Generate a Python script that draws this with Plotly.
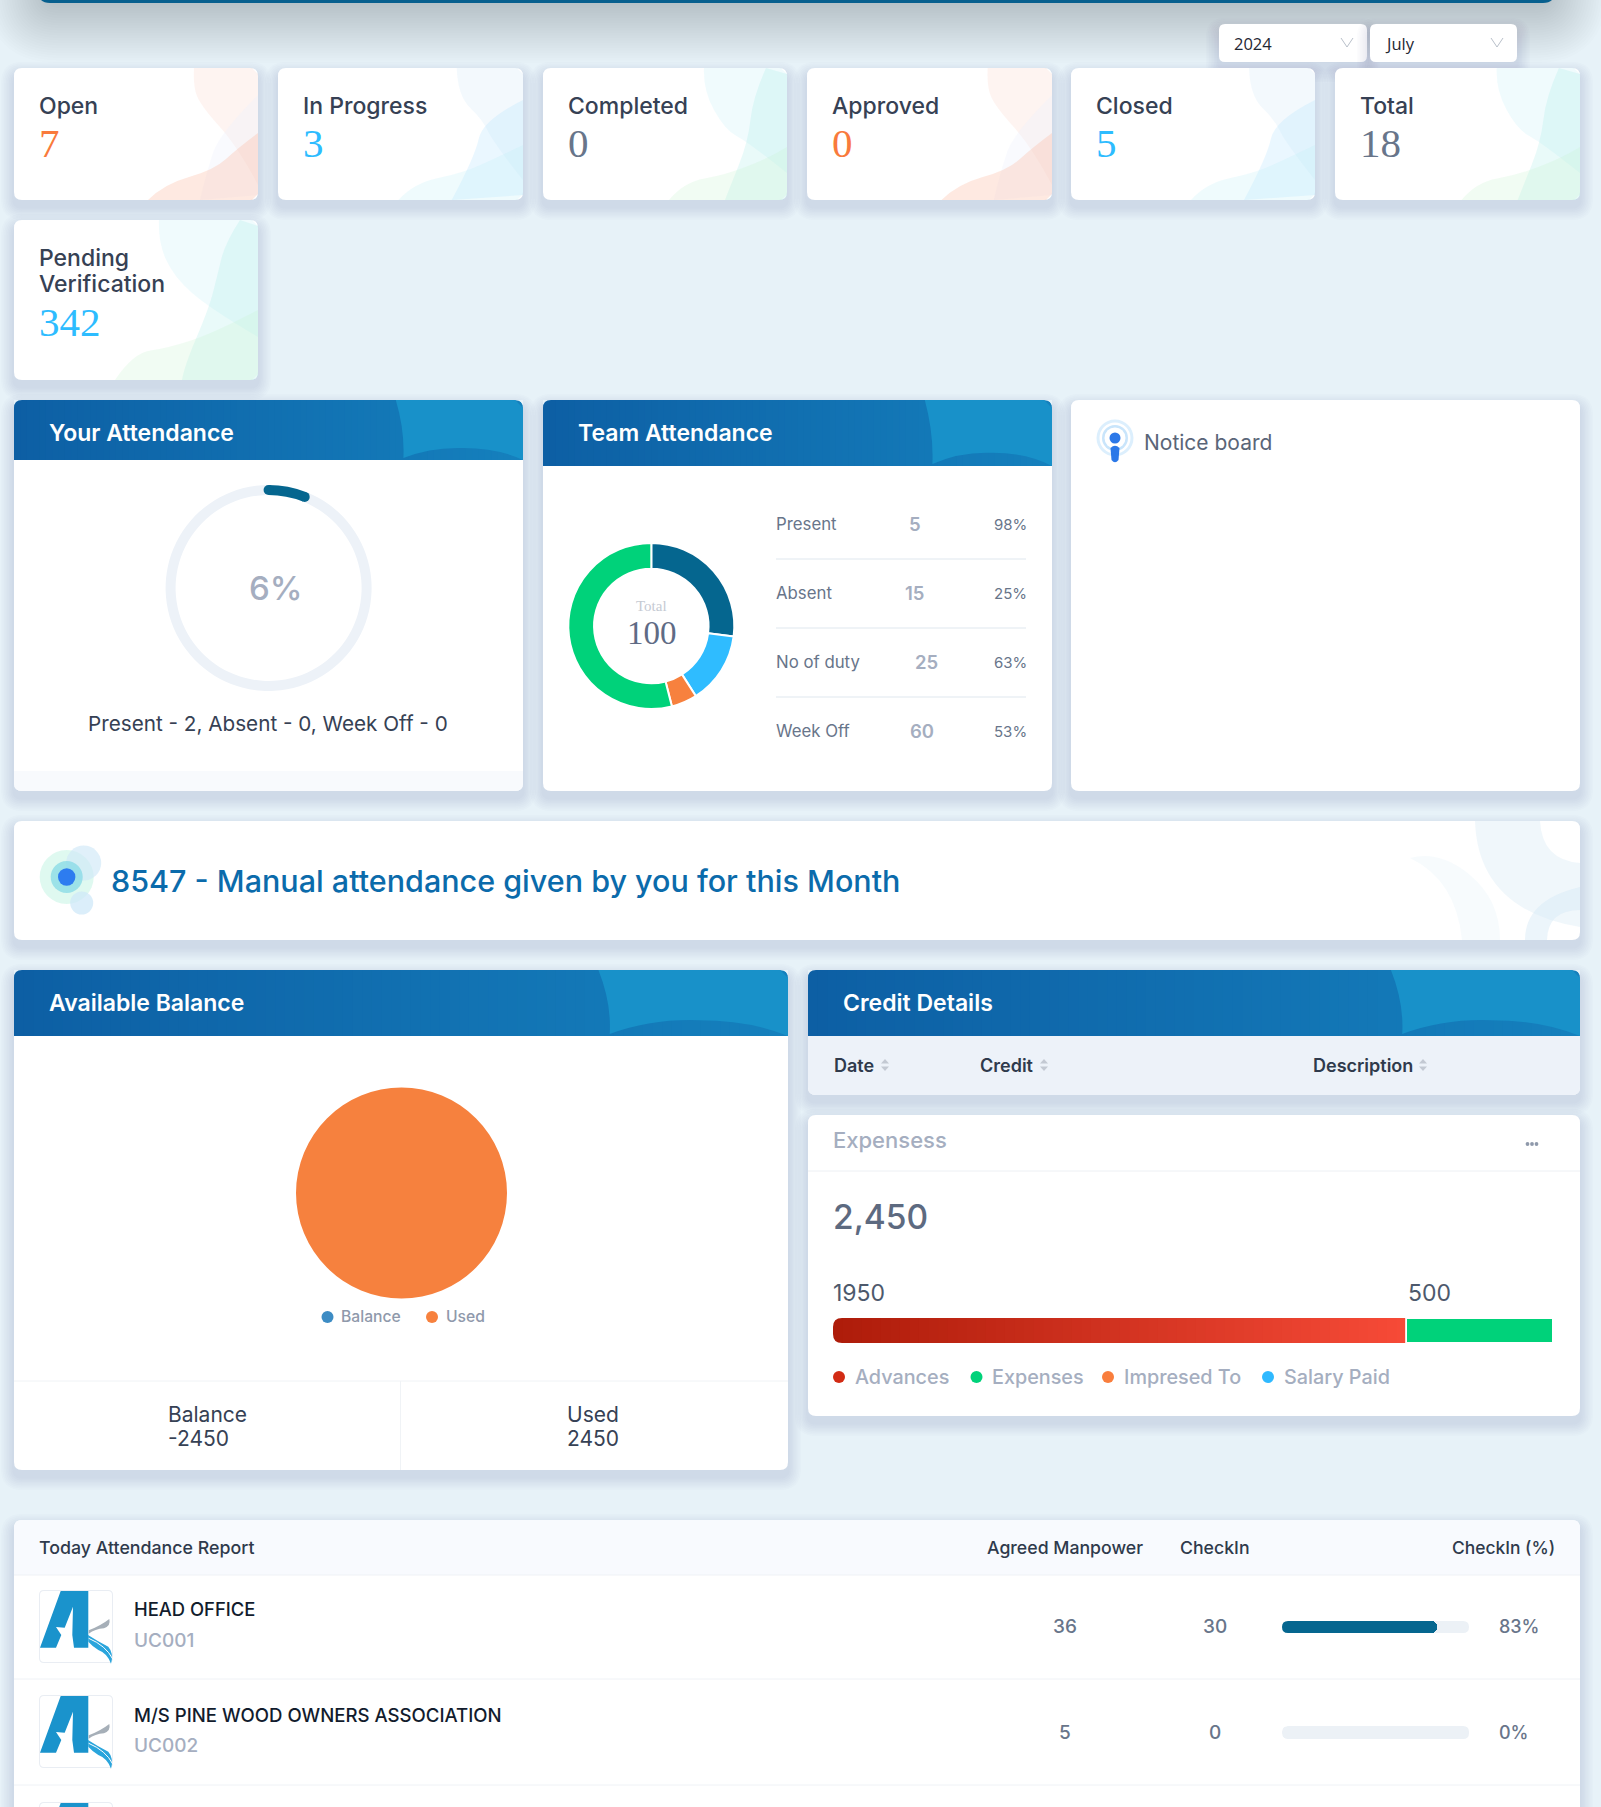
import math
import plotly.graph_objects as go

W, H = 1601, 1807
SANS = "Inter"
SERIF = "Liberation Serif"
PAGE = "#e7f2f8"

# data
card_titles = ["Open", "In Progress", "Completed", "Approved", "Closed", "Total", "Pending<br>Verification"]
card_values = [7, 3, 0, 0, 5, 18, 342]
card_colors = ["#f97a3c", "#2dbcff", "#68758a", "#f97a3c", "#2dbcff", "#68758a", "#2dbcff"]
card_themes = ["orange", "blue", "teal", "orange", "blue", "teal", "tall"]

attendance_pct = [6, 94]
attendance_text = "Present - 2, Absent - 0, Week Off - 0"

team_slices = ["Present", "Absent", "No of duty", "Week Off"]
team_shares = [27, 14, 5, 54]
team_colors = ["#05668f", "#2fbcff", "#f7813e", "#00d27a"]
team_counts = [5, 15, 25, 60]
team_pcts = ["98%", "25%", "63%", "53%"]

balance_labels = ["Balance", "Used"]
balance_values = [0, 2450]
balance_shown = [-2450, 2450]

expense_labels = ["Advances", "Expenses", "Impresed To", "Salary Paid"]
expense_values = [1950, 500]
expense_total = "2,450"

sites = ["HEAD OFFICE", "M/S PINE WOOD OWNERS ASSOCIATION"]
site_codes = ["UC001", "UC002"]
manpower = [36, 5]
checkin = [30, 0]
checkin_pct = [83, 0]

shapes = []
notes = []


def smooth(pts):
    # smooth open curve through midpoints, starts at first point, ends at last
    d = "M%.1f,%.1f" % pts[0]
    for i in range(1, len(pts) - 1):
        mx = (pts[i][0] + pts[i + 1][0]) / 2
        my = (pts[i][1] + pts[i + 1][1]) / 2
        if i == len(pts) - 2:
            mx, my = pts[i + 1]
        d += " Q%.1f,%.1f %.1f,%.1f" % (pts[i][0], pts[i][1], mx, my)
    return d


def rrect(x0, y0, x1, y1, r=8, top=True, bottom=True):
    rt = r if top else 0
    rb = r if bottom else 0
    return ("M%g,%g L%g,%g Q%g,%g %g,%g L%g,%g Q%g,%g %g,%g L%g,%g Q%g,%g %g,%g L%g,%g Q%g,%g %g,%g Z" % (
        x0 + rt, y0, x1 - rt, y0, x1, y0, x1, y0 + rt, x1, y1 - rb, x1, y1, x1 - rb, y1,
        x0 + rb, y1, x0, y1, x0, y1 - rb, x0, y0 + rt, x0, y0, x0 + rt, y0))


def path(d, fill, opacity=1, layer="below"):
    shapes.append(dict(type="path", path=d, xref="x", yref="y", fillcolor=fill, opacity=opacity,
                       line=dict(width=0), layer=layer))


def rect(x0, y0, x1, y1, fill, opacity=1, layer="below", xref="x", yref="y"):
    shapes.append(dict(type="rect", x0=x0, y0=y0, x1=x1, y1=y1, xref=xref, yref=yref, fillcolor=fill,
                       opacity=opacity, line=dict(width=0), layer=layer))


def circle(cx, cy, r, fill, opacity=1, layer="below"):
    shapes.append(dict(type="circle", x0=cx - r, y0=cy - r, x1=cx + r, y1=cy + r, xref="x", yref="y",
                       fillcolor=fill, opacity=opacity, line=dict(width=0), layer=layer))


def hline(x0, x1, y, color, width=1):
    shapes.append(dict(type="line", x0=x0, x1=x1, y0=y, y1=y, xref="x", yref="y",
                       line=dict(color=color, width=width), layer="below"))


def vline(x, y0, y1, color, width=1):
    shapes.append(dict(type="line", x0=x, x1=x, y0=y0, y1=y1, xref="x", yref="y",
                       line=dict(color=color, width=width), layer="below"))


def text(x, y, s, size, color, anchor="left", font=SANS, weight=400):
    # annotations carry a little padding of their own
    if anchor == "left":
        x -= 1.5
    elif anchor == "right":
        x += 2
    notes.append(dict(x=x, y=y, xref="x", yref="y", text=str(s), showarrow=False, xanchor=anchor, yanchor="middle",
                      borderpad=0, font=dict(family=font, size=size, color=color, weight=weight)))


def mask(x, y, r, sx, sy, color="#ffffff", layer="above"):
    # paints away a square corner; sx, sy point into the shape
    path("M%g,%g L%g,%g Q%g,%g %g,%g Z" % (x, y, x + sx * r, y, x, y, x, y + sy * r), color, layer=layer)


def shadow(x0, y0, x1, y1, r=8):
    for i in range(8):
        e = 13 - i * 1.6
        path(rrect(x0 - e, y0 - e + 7, x1 + e, y1 + e + 7, r + e), "#4f7690", 0.018)


def card(x0, y0, x1, y1, fill="#ffffff"):
    shadow(x0, y0, x1, y1)
    path(rrect(x0, y0, x1, y1), fill)


def mix(a, b, t):
    ca = [int(a[i:i + 2], 16) for i in (1, 3, 5)]
    cb = [int(b[i:i + 2], 16) for i in (1, 3, 5)]
    return "rgb(%d,%d,%d)" % tuple(round(p + (q - p) * t) for p, q in zip(ca, cb))


def header(x0, y0, x1, y1, title):
    n = 80
    w = (x1 - x0) / n
    for i in range(n):
        rect(x0 + i * w, y0, min(x0 + (i + 1) * w + 1.5, x1), y1, mix("#0d5fa4", "#1580bd", i / (n - 1)))
    mask(x0, y0, 8, 1, 1, PAGE, "below")
    mask(x1, y0, 8, -1, 1, PAGE, "below")
    # lighter wave in the right corner
    span = x1 - x0
    s = 0.245 * span if span > 600 else 0.25 * span
    h = y1 - y0
    rise = 0.24 * h if span > 600 else 0.2 * h
    d = smooth([(x1 - s, y0), (x1 - s * 0.93, y0 + h * 0.5), (x1 - s * 0.94, y1 - 2)])
    d += " Q%.1f,%.1f %.1f,%.1f Q%.1f,%.1f %.1f,%.1f L%g,%g L%g,%g L%g,%g Z" % (
        x1 - s * 0.72, y1 - rise * 1.1, x1 - s * 0.47, y1 - rise,
        x1 - s * 0.2, y1 - rise, x1, y1, x1, y1, x1, y0 + 8, x1 - 8, y0)
    path(d, "#1891c9")
    mask(x1, y0, 8, -1, 1, PAGE, "below")
    text(x0 + 35.5, y0 + 33, title, 23, "#ffffff", weight=600)


# blob outlines relative to a card of the given base height
BLOBS = {
    "orange": (132, [
        ([(180, 0), (179, 18), (187, 38), (224, 79), (244, 117)], "#f9c7b8", 0.2),
        ([(244, 27), (206, 65), (193, 102), (186, 132)], "#eef0fb", 0.35),
        ([(134, 132), (150, 116), (200, 102), (224, 80), (244, 65)], "#fdb59c", 0.3),
    ]),
    "blue": (132, [
        ([(178, 0), (179, 28), (204, 52), (214, 74), (244, 112)], "#c8e4f4", 0.22),
        ([(244, 32), (204, 52), (196, 89), (173, 132)], "#b9e3ff", 0.3),
        ([(120, 132), (135, 115), (184, 105), (219, 89), (244, 77)], "#bdf0f8", 0.24),
    ]),
    "teal": (132, [
        ([(161, 0), (160, 22), (182, 62), (205, 74), (244, 105)], "#bff0f6", 0.24),
        ([(223, 0), (210, 29), (205, 74), (187, 119), (182, 132)], "#a5e9e5", 0.24),
        ([(126, 132), (141, 114), (182, 107), (228, 89), (244, 79)], "#c6f2ce", 0.24),
    ]),
    "tall": (160, [
        ([(145, 0), (144, 22), (160, 57), (195, 88), (244, 117)], "#bff0f6", 0.24),
        ([(226, 0), (211, 23), (203, 57), (195, 88), (170, 147), (168, 160)], "#a5e9e5", 0.24),
        ([(101, 160), (119, 133), (154, 128), (200, 113), (244, 90)], "#c6f2ce", 0.24),
    ]),
}


def blobs(x0, y0, x1, y1, theme):
    base, items = BLOBS[theme]
    sx = (x1 - x0) / 244
    sy = (y1 - y0) / base
    for pts, color, alpha in items:
        abs_pts = [(x0 + p * sx, y0 + q * sy) for p, q in pts]
        d = smooth(abs_pts)
        if pts[0][1] == 0:
            if pts[-1][1] == base:
                d += " L%g,%g L%g,%g L%g,%g Z" % (x1 - 4, y1, x1, y1 - 4, x1, y0 + 6)
            else:
                d += " L%g,%g L%g,%g Z" % (x1, y0 + 6, x1 - 6, y0)
        elif pts[0][0] == 244:
            d += " L%g,%g Z" % (x1, y1 - 5)
        else:
            d += " L%g,%g L%g,%g Z" % (x1, y1 - 6, x1 - 6, y1)
        path(d, color, alpha)


def logo(dy):
    path(rrect(39, 1590 + dy, 113, 1663 + dy, 5), "#e9edf3")
    path(rrect(40, 1591 + dy, 112, 1662 + dy, 4), "#ffffff")
    px = lambda x: 30 + x / 3
    py = lambda y: 1585 + dy + y / 3
    a = [(92, 18), (175, 18), (175, 188), (132, 188), (127, 150), (129, 65), (104, 128), (78, 126), (94, 150),
         (78, 188), (30, 188)]
    path("M" + " L".join("%.1f,%.1f" % (px(x), py(y)) for x, y in a) + " Z", "#1a93cc")
    # swooshes beside the letter
    path("M%.1f,%.1f Q%.1f,%.1f %.1f,%.1f Q%.1f,%.1f %.1f,%.1f Q%.1f,%.1f %.1f,%.1f Z" % (
        px(176), py(136), px(212), py(122), px(238), py(102), px(243), py(122), px(222), py(130),
        px(195), py(132), px(176), py(146)), "#a6afb8")
    path("M%.1f,%.1f Q%.1f,%.1f %.1f,%.1f Q%.1f,%.1f %.1f,%.1f Q%.1f,%.1f %.1f,%.1f Q%.1f,%.1f %.1f,%.1f Z" % (
        px(174), py(150), px(205), py(170), px(235), py(185), px(252), py(205), px(243), py(236),
        px(232), py(205), px(205), py(195), px(188), py(185), px(175), py(170)), "#2aa5dc")
    shapes.append(dict(type="path", path="M%.1f,%.1f Q%.1f,%.1f %.1f,%.1f" % (px(176), py(160), px(228), py(182), px(248), py(222)),
                       xref="x", yref="y", line=dict(color="#ffffff", width=1), layer="below"))


# top banner with its shadow
for i in range(24):
    e = 60 - i * 2.5
    path(rrect(46 - e, -40 - e, 1547 + e, 3 + e, 14 + e), "#4a5a6a", 0.0115)
path(rrect(38, -30, 1555, 3, 12), "#075f8e")

# dropdowns
for x0, x1, label, arrow in [(1219, 1367, "2024", 1347), (1370, 1517, "July", 1497)]:
    shadow(x0, 24, x1, 62, 6)
    path(rrect(x0, 24, x1, 62, 6), "#ffffff")
    text(x0 + 15, 43, label, 16.5, "#1f2733", font="Open Sans")
    shapes.append(dict(type="path", path="M%g,38 L%g,47 L%g,38" % (arrow - 6, arrow, arrow + 6), xref="x", yref="y",
                       line=dict(color="#b9c0ca", width=1), layer="below"))

# stat cards
card_x = [(14, 258), (278, 523), (543, 787), (807, 1052), (1071, 1315), (1335, 1580), (14, 258)]
for i, (x0, x1) in enumerate(card_x):
    y0, y1 = (68, 200) if i < 6 else (220, 380)
    card(x0, y0, x1, y1)
    blobs(x0, y0, x1, y1, card_themes[i])
    if i < 6:
        text(x0 + 25, 106, card_titles[i], 23, "#364154", weight=500)
        text(x0 + 25, 143, card_values[i], 41, card_colors[i], font=SERIF)
    else:
        top, bottom = card_titles[i].split("<br>")
        text(x0 + 25, 258, top, 23, "#364154", weight=500)
        text(x0 + 25, 284, bottom, 23, "#364154", weight=500)
        text(x0 + 25, 322, card_values[i], 41, card_colors[i], font=SERIF)

# your attendance
card(14, 400, 523, 791)
path(rrect(14, 771, 523, 791, 8, top=False), "#f8fafd")
header(14, 400, 523, 460, "Your Attendance")
text(276, 588, "%d%%" % attendance_pct[0], 33, "#a5aec0", anchor="center", weight=500)
text(268, 723, attendance_text, 20.7, "#364154", anchor="center")

# team attendance
card(543, 400, 1052, 791)
header(543, 400, 1052, 466, "Team Attendance")
text(651, 606, "Total", 15, "#c5cad3", anchor="center", font=SERIF)
text(652, 633, 100, 33, "#5f6b85", anchor="center", font=SERIF)
row_y = [524, 593, 662, 731]
count_x = [915, 914, 926.5, 921.5]
for i, y in enumerate(row_y):
    text(776, y, team_slices[i], 16.8, "#68758a")
    text(count_x[i], y, team_counts[i], 18.5, "#a5aec0", anchor="center", weight=600)
    text(1026, y, team_pcts[i], 15, "#68758a", anchor="right")
    if i < 3:
        hline(776, 1026, (row_y[i] + row_y[i + 1]) / 2 + 0.5, "#dfe7ee")

# notice board
card(1071, 400, 1580, 791)
circle(1115, 438, 18.5, "#dceffd")
circle(1115, 438, 15.5, "#ffffff")
circle(1115, 438, 13, "#c9e5fb")
circle(1115, 438, 10.5, "#ffffff")
circle(1115, 438, 5.5, "#2b78e8")
path("M1110.5,448 Q1115,443.5 1119.5,448 L1118.5,460 Q1115,464.5 1111.5,460 Z", "#2b78e8")
text(1144, 442, "Notice board", 21, "#5a6578")

# manual attendance banner
card(14, 821, 1580, 940)
path("M1462,940 Q1456,880 1410,858 Q1440,850 1470,875 Q1500,900 1500,940 Z", "#f1f7fb", 0.55)
path("M1475,821 Q1478,910 1580,927 L1580,863 Q1542,860 1540,821 Z", "#dcecf6", 0.42)
path("M1525,940 Q1525,900 1580,887 L1580,910 Q1548,910 1547,940 Z", "#d5e9f6", 0.45)
circle(66.7, 877, 27, "#dcf8ee", 0.9)
circle(83.7, 863, 17.5, "#cfe8f8", 0.65)
circle(81.7, 903, 11.5, "#cfe8f8", 0.75)
circle(66.7, 877, 16, "#86d9e6", 0.75)
circle(66.7, 877, 8.7, "#2d7cf0")
text(111, 880, "8547 - Manual attendance given by you for this Month", 30.5, "#0b6bab", weight=500)

# available balance
card(14, 970, 788, 1470)
header(14, 970, 788, 1036, "Available Balance")
for x, y, s, c in [(327.5, 1317, balance_labels[0], "#3d8cc4"), (432, 1317, balance_labels[1], "#f7813e")]:
    circle(x, y, 6, c)
    text(x + 14, y - 1, s, 15.7, "#8f99ab", weight=500)
hline(14, 788, 1381, "#f0f3f6")
vline(400.5, 1381, 1470, "#f0f3f6")
text(168, 1414, balance_labels[0], 21, "#364154")
text(168, 1438, balance_shown[0], 21, "#364154")
text(567, 1414, balance_labels[1], 21, "#364154")
text(567, 1438, balance_shown[1], 21, "#364154")

# credit details
card(808, 970, 1580, 1095)
path(rrect(808, 1030, 1580, 1095, 8, top=False), "#edf2f9")
header(808, 970, 1580, 1036, "Credit Details")
for x, sx, s in [(834, 885, "Date"), (980, 1044, "Credit"), (1313, 1423, "Description")]:
    text(x, 1065, s, 18, "#2f3a4c", weight=600)
    path("M%g,1063.5 L%g,1059 L%g,1063.5 Z" % (sx - 4, sx, sx + 4), "#c3c9d3")
    path("M%g,1066.5 L%g,1071 L%g,1066.5 Z" % (sx - 4, sx, sx + 4), "#c3c9d3")

# expenses card
card(808, 1115, 1580, 1416)
hline(808, 1580, 1171, "#edf0f4")
text(833, 1140, "Expensess", 22, "#a5aec0", weight=500)
for x in (1527.5, 1532, 1536.5):
    circle(x, 1144, 1.9, "#8f99ab")
text(833, 1217, expense_total, 33.5, "#5d6a80", weight=500)
text(833, 1293, expense_values[0], 23, "#4d596c")
text(1408, 1293, expense_values[1], 23, "#4d596c")
legend_x = [839, 976.5, 1108, 1268]
legend_c = ["#d22b14", "#00d27a", "#f97e3d", "#2fb9ff"]
for i, x in enumerate(legend_x):
    circle(x, 1377, 6, legend_c[i])
    text(x + 16, 1377, expense_labels[i], 19.8, "#a5aec0", weight=500)

# attendance table
card(14, 1520, 1580, 1900)
path(rrect(14, 1520, 1580, 1575, 8, bottom=False), "#f8fafe")
hline(14, 1580, 1575, "#eff2f6")
text(39, 1547, "Today Attendance Report", 17.8, "#2f3a4c", weight=500)
text(1065, 1547, "Agreed Manpower", 17.7, "#2f3a4c", anchor="center", weight=500)
text(1215, 1547, "CheckIn", 17.7, "#2f3a4c", anchor="center", weight=500)
text(1554, 1547, "CheckIn (%)", 17.4, "#2f3a4c", anchor="right", weight=500)
hline(14, 1580, 1679, "#eff2f6")
hline(14, 1580, 1785, "#eff2f6")
logo(0)
logo(105)
logo(212)
rows = [(1609, 1640, 1626, 1621, 1633), (1715, 1745, 1732, 1726, 1739)]
for i, (ty, cy, vy, b0, b1) in enumerate(rows):
    text(134, ty, sites[i], 18.4 + i * 0.2, "#121c2d", weight=500)
    text(134, cy, site_codes[i], 19, "#a5aec0", weight=500)
    text(1065, vy, manpower[i], 19, "#68758a", anchor="center", weight=500)
    text(1215, vy, checkin[i], 19, "#68758a", anchor="center", weight=500)
    text(1499.5, vy, "%d%%" % checkin_pct[i], 18, "#68758a", weight=500)
    path(rrect(1282, b0, 1469, b1, 6), "#ecf1f6")
    mask(1282, b0, 6, 1, 1)
    mask(1282, b1, 6, 1, -1)

fig = go.Figure()


def dom(a, b, size):
    return [a / size, b / size]


def ydom(y0, y1):
    return [1 - y1 / H, 1 - y0 / H]


# gauge ring
gcx, gcy, gr = 268.6, 588, 103
fig.add_trace(go.Pie(values=attendance_pct, labels=["Present", "Rest"], hole=0.903, sort=False, direction="clockwise",
                     rotation=0, textinfo="none", hoverinfo="skip", showlegend=False,
                     marker=dict(colors=["#05668f", "#edf2f8"], line=dict(width=0)),
                     domain=dict(x=dom(gcx - gr, gcx + gr, W), y=ydom(gcy - gr, gcy + gr))))
# rounded arc ends
arc_r = gr - 5
end_angle = math.radians(attendance_pct[0] / sum(attendance_pct) * 360)
circle(gcx, gcy - arc_r, 5, "#05668f", layer="above")
circle(gcx + arc_r * math.sin(end_angle), gcy - arc_r * math.cos(end_angle), 5, "#05668f", layer="above")

# team donut
tcx, tcy, tr = 651.3, 626, 83
fig.add_trace(go.Pie(values=team_shares, labels=team_slices, hole=0.69, sort=False, direction="clockwise",
                     rotation=0, textinfo="none", showlegend=False,
                     marker=dict(colors=team_colors, line=dict(color="#ffffff", width=2)),
                     domain=dict(x=dom(tcx - tr, tcx + tr, W), y=ydom(tcy - tr, tcy + tr))))

# balance pie
bcx, bcy, br = 401.5, 1193, 105.5
fig.add_trace(go.Pie(values=balance_values, labels=balance_labels, sort=False, textinfo="none", showlegend=False,
                     marker=dict(colors=["#3d8cc4", "#f6813e"], line=dict(width=0)),
                     domain=dict(x=dom(bcx - br, bcx + br, W), y=ydom(bcy - br, bcy + br))))

# expenses stacked bar
fig.add_trace(go.Bar(x=[expense_values[0]], y=[0], width=1, orientation="h", name=expense_labels[0], xaxis="x2", yaxis="y2",
                     marker=dict(color="#d22b14", line=dict(width=0))))
fig.add_trace(go.Bar(x=[expense_values[1]], y=[0], width=1, orientation="h", name=expense_labels[1], xaxis="x2", yaxis="y2",
                     marker=dict(color="#00d27a", line=dict(color="#ffffff", width=1.5))))
n_strips = 60
for i in range(n_strips):
    a = expense_values[0] * i / n_strips
    b = expense_values[0] * (i + 1) / n_strips
    rect(a, -0.5, min(b + 3, expense_values[0] - 3), 0.5, mix("#ae1c0a", "#f64a37", i / (n_strips - 1)),
         layer="above", xref="x2", yref="y2")
mask(833, 1318, 9, 1, 1)
mask(833, 1343, 9, 1, -1)
mask(1553, 1318, 4, -1, 1)
mask(1553, 1343, 4, -1, -1)

# checkin progress bars
for i, (ty, cy, vy, b0, b1) in enumerate(rows):
    ax = str(i + 3)
    fig.add_trace(go.Bar(x=[checkin_pct[i]], y=[0], width=1, orientation="h", name=sites[i], xaxis="x" + ax, yaxis="y" + ax,
                         marker=dict(color="#05668f", cornerradius=6, line=dict(width=0))))

hidden = dict(visible=False, showgrid=False, zeroline=False, fixedrange=True)
layout_axes = dict(
    xaxis=dict(range=[0, W], domain=[0, 1], **hidden),
    yaxis=dict(range=[H, 0], domain=[0, 1], **hidden),
    xaxis2=dict(range=[0, sum(expense_values)], domain=dom(833, 1553, W), anchor="y2", **hidden),
    yaxis2=dict(range=[-0.5, 0.5], domain=ydom(1318, 1343), anchor="x2", **hidden),
)
for i, (ty, cy, vy, b0, b1) in enumerate(rows):
    ax = str(i + 3)
    layout_axes["xaxis" + ax] = dict(range=[0, 100], domain=dom(1282, 1469, W), anchor="y" + ax, **hidden)
    layout_axes["yaxis" + ax] = dict(range=[-0.5, 0.5], domain=ydom(b0, b1), anchor="x" + ax, **hidden)

fig.update_layout(width=W, height=H, margin=dict(l=0, r=0, t=0, b=0), paper_bgcolor=PAGE, plot_bgcolor="rgba(0,0,0,0)",
                  barmode="stack", showlegend=False, shapes=shapes, annotations=notes,
                  font=dict(family=SANS), **layout_axes)

fig.write_html("out.html", config=dict(displayModeBar=False),
               post_script="document.body.style.margin='0';document.documentElement.style.overflow='hidden';")
